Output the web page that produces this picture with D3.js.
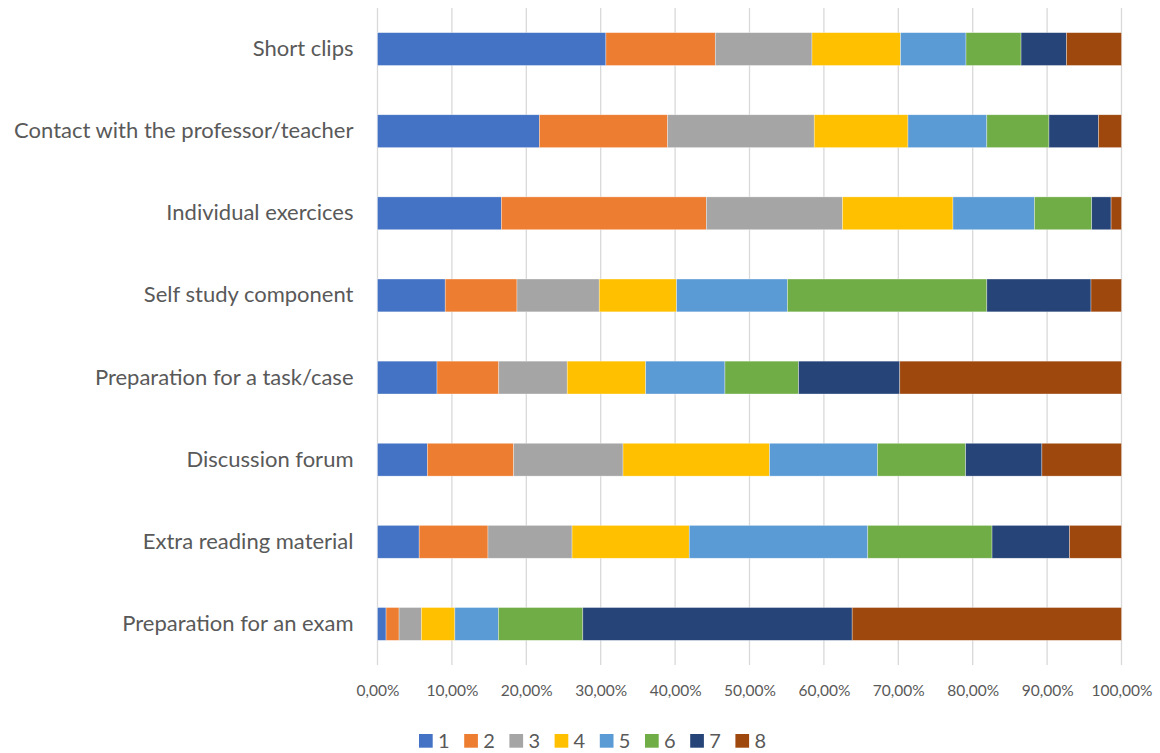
<!DOCTYPE html>
<html>
<head>
<meta charset="utf-8">
<script src="https://cdn.jsdelivr.net/npm/d3@7"></script>
<style>
  html, body { margin: 0; padding: 0; background: #fff; }
  svg { display: block; }
  text { font-family: Lato, "Open Sans", sans-serif; fill: #595959; }
</style>
</head>
<body>
<svg id="chart" width="1160" height="753"></svg>
<script>
// Learning activities, top to bottom
const categories = [
  "Short clips",
  "Contact with the professor/teacher",
  "Individual exercices",
  "Self study component",
  "Preparation for a task/case",
  "Discussion forum",
  "Extra reading material",
  "Preparation for an exam"
];

// Share of answers (%) for each rating 1–8, one value per activity
const rating1 = [30.7, 21.75, 16.65, 9.1, 8.0, 6.7, 5.6, 1.15];
const rating2 = [14.7, 17.25, 27.55, 9.65, 8.3, 11.6, 9.25, 1.75];
const rating3 = [13.0, 19.7, 18.3, 11.05, 9.2, 14.7, 11.3, 3.0];
const rating4 = [11.9, 12.6, 14.85, 10.4, 10.55, 19.7, 15.75, 4.5];
const rating5 = [8.8, 10.6, 10.95, 14.9, 10.65, 14.5, 24.0, 5.85];
const rating6 = [7.4, 8.35, 7.7, 26.8, 9.9, 11.85, 16.7, 11.35];
const rating7 = [6.1, 6.65, 2.6, 14.0, 13.6, 10.25, 10.4, 36.2];
const rating8 = [7.4, 3.1, 1.4, 4.1, 29.8, 10.7, 7.0, 36.2];

const seriesNames = ["1", "2", "3", "4", "5", "6", "7", "8"];
const seriesValues = [rating1, rating2, rating3, rating4, rating5, rating6, rating7, rating8];
const seriesColors = ["#4472C4", "#ED7D31", "#A5A5A5", "#FFC000", "#5B9BD5", "#70AD47", "#264478", "#9E480E"];

const tickValues = [0, 10, 20, 30, 40, 50, 60, 70, 80, 90, 100];

// Rows for the stack layout
const rows = categories.map((c, i) => {
  const r = { category: c };
  seriesNames.forEach((k, j) => { r[k] = seriesValues[j][i]; });
  return r;
});

const svg = d3.select("#chart");
const margin = { left: 377.5, right: 38.5, top: 8, bottom: 88 };
const W = 1160, H = 753;

const x = d3.scaleLinear().domain([0, 100]).range([margin.left, W - margin.right]);
const y = d3.scaleBand().domain(categories).range([margin.top, H - margin.bottom]).paddingInner(0.6).paddingOuter(0.3);

const locale = d3.formatLocale({ decimal: ",", thousands: ".", grouping: [3], currency: ["", "€"] });
const pct = v => locale.format(".2f")(v) + "%";

// Vertical gridlines
svg.append("g")
  .selectAll("line")
  .data(tickValues)
  .join("line")
  .attr("x1", d => x(d)).attr("x2", d => x(d))
  .attr("y1", margin.top).attr("y2", H - margin.bottom)
  .attr("stroke", "#D9D9D9")
  .attr("stroke-width", 1.3);

// Stacked bars
const stack = d3.stack().keys(seriesNames).value((d, k) => d[k])(rows);
svg.append("g")
  .selectAll("g")
  .data(stack)
  .join("g")
  .attr("fill", (d, i) => seriesColors[i])
  .selectAll("rect")
  .data(d => d)
  .join("rect")
  .attr("x", d => x(d[0]))
  .attr("width", d => x(d[1]) - x(d[0]))
  .attr("y", d => y(d.data.category))
  .attr("height", y.bandwidth())
  .attr("stroke", "rgba(255,255,255,0.55)")
  .attr("stroke-width", 0.6);

// Category labels
const yAxis = d3.axisLeft(y).tickSize(0).tickPadding(24);
const gy = svg.append("g").attr("transform", `translate(${margin.left},0)`).call(yAxis);
gy.select(".domain").remove();
gy.selectAll("text").style("font-size", "22px").style("fill", "#595959")
  .style("font-family", "Lato, 'Open Sans', sans-serif");

// Percentage axis
const xAxis = d3.axisBottom(x).tickValues(tickValues).tickFormat(pct).tickSize(0).tickPadding(20);
const gx = svg.append("g").attr("transform", `translate(0,${H - margin.bottom})`).call(xAxis);
gx.select(".domain").remove();
gx.selectAll("text").style("font-size", "15.5px").style("fill", "#595959")
  .style("font-family", "Lato, 'Open Sans', sans-serif");

// Legend
const itemW = 45.2;
const legendX = 419;
const legend = svg.append("g").attr("transform", `translate(${legendX},734)`);
const item = legend.selectAll("g").data(seriesNames).join("g")
  .attr("transform", (d, i) => `translate(${i * itemW},0)`);
item.append("rect").attr("width", 13.7).attr("height", 13.7).attr("fill", (d, i) => seriesColors[i]);
item.append("text").attr("x", 19).attr("y", 7).attr("dy", "0.35em")
  .style("font-size", "20px").text(d => d);
</script>
</body>
</html>
